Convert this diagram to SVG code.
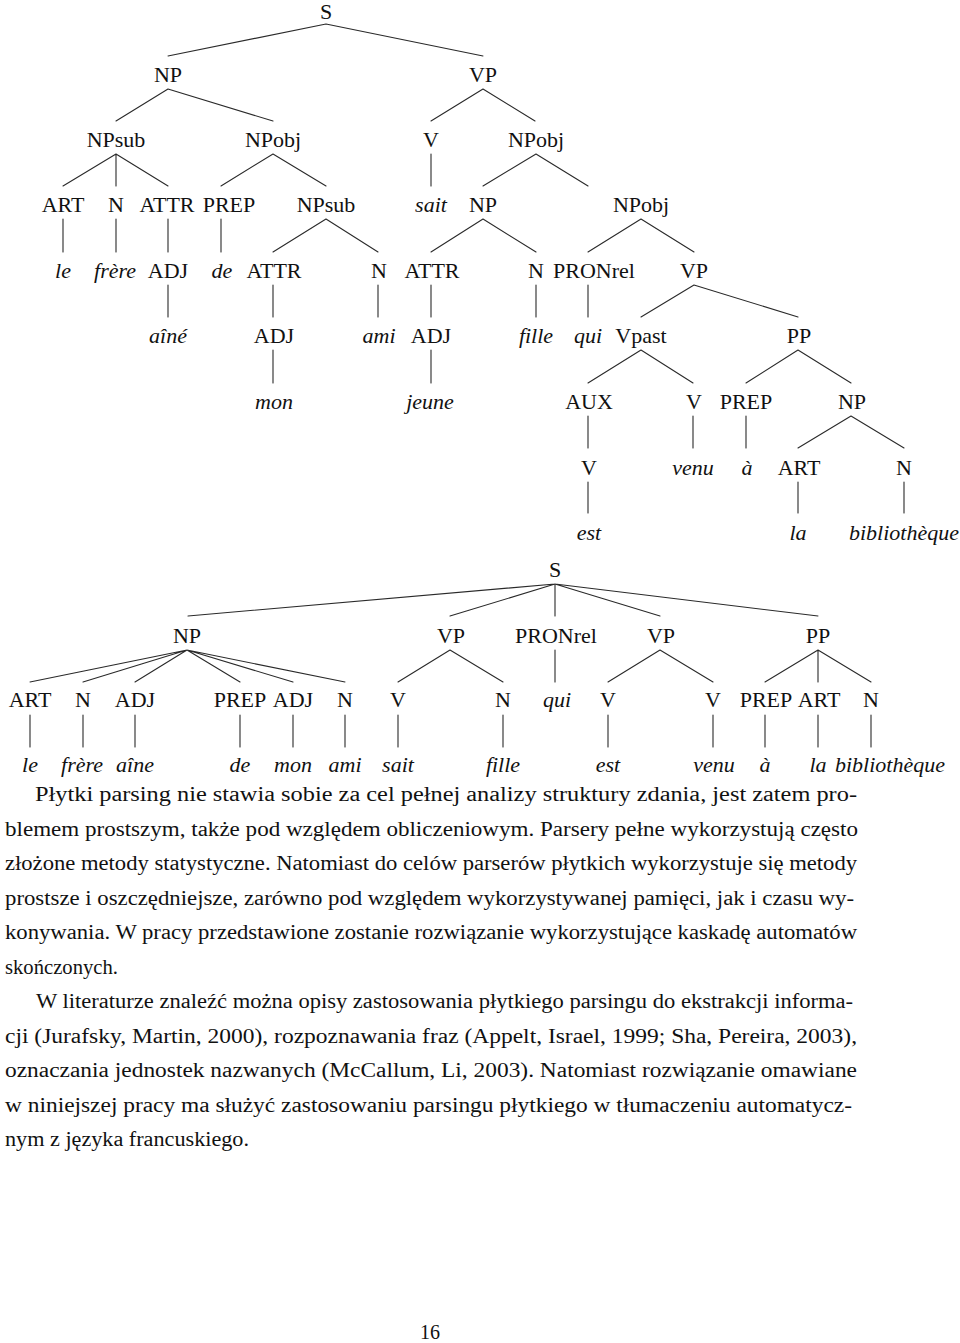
<svg xmlns="http://www.w3.org/2000/svg" width="960" height="1343" viewBox="0 0 960 1343">
<style>
text{font-family:"Liberation Serif","DejaVu Serif",serif;fill:#111}
.t{font-size:22px;text-anchor:middle}
.i{font-style:italic}
.p{font-size:20px}
#connectors{stroke:#2a2a2a;stroke-width:1.1;fill:none;stroke-linecap:round}
</style>
<rect width="960" height="1343" fill="#fff"/>
<g id="connectors">
<path d="M326 24L168 56M326 24L483 56"/>
<path d="M168 89L116 121M168 89L273 121"/>
<path d="M483 89L431 121M483 89L535 121"/>
<path d="M116 154L63 186M116 154L116 186M116 154L168 186"/>
<path d="M273 154L221 186M273 154L326 186"/>
<path d="M431 154L431 186"/>
<path d="M536 154L483 186M536 154L588 186"/>
<path d="M63 219L63 252M116 219L116 252M168 219L168 252M221 219L221 252"/>
<path d="M326 219L273 252M326 219L378 252"/>
<path d="M483 219L431 252M483 219L536 252"/>
<path d="M641 219L588 252M641 219L694 252"/>
<path d="M168 285L168 317M273 285L273 317M378 285L378 317M431 285L431 317M536 285L536 317M588 285L588 317"/>
<path d="M694 285L641 317M694 285L798 317"/>
<path d="M273 350L273 383M431 350L431 383"/>
<path d="M641 350L588 383M641 350L693 383"/>
<path d="M798 350L746 383M798 350L851 383"/>
<path d="M588 416L588 448M693 416L693 448M746 416L746 448"/>
<path d="M851 416L798 448M851 416L904 448"/>
<path d="M588 482L588 513M798 482L798 513M904 482L904 513"/>
<path d="M555 584L188 616M555 584L450 616M555 584L555 616M555 584L660 616M555 584L818 616"/>
<path d="M187 650L30 682M187 650L83 682M187 650L135 682M187 650L240 682M187 650L293 682M187 650L345 682"/>
<path d="M450 650L398 682M450 650L503 682"/>
<path d="M555 650L555 682"/>
<path d="M660 650L608 682M660 650L713 682"/>
<path d="M818 650L765 682M818 650L818 682M818 650L871 682"/>
<path d="M30 715L30 747M83 715L83 747M135 715L135 747M240 715L240 747M293 715L293 747M345 715L345 747M398 715L398 747M503 715L503 747M608 715L608 747M713 715L713 747M765 715L765 747M818 715L818 747M871 715L871 747"/>
</g>
<g id="tree1">
<g id="t1-S"><text class="t" x="326" y="19">S</text></g>
<g id="t1-NP"><text class="t" x="168" y="82">NP</text></g>
<g id="t1-VP"><text class="t" x="483" y="82">VP</text></g>
<g id="t1-NPsub"><text class="t" x="116" y="147">NPsub</text></g>
<g id="t1-NPobj"><text class="t" x="273" y="147">NPobj</text></g>
<g id="t1-V"><text class="t" x="431" y="147">V</text></g>
<g id="t1-NPobj2"><text class="t" x="536" y="147">NPobj</text></g>
<g id="t1-ART"><text class="t" x="63" y="212">ART</text></g>
<g id="t1-N"><text class="t" x="116" y="212">N</text></g>
<g id="t1-ATTR"><text class="t" x="167" y="212">ATTR</text></g>
<g id="t1-PREP"><text class="t" x="229" y="212">PREP</text></g>
<g id="t1-NPsub2"><text class="t" x="326" y="212">NPsub</text></g>
<g id="t1-sait"><text class="t i" x="431" y="212">sait</text></g>
<g id="t1-NP2"><text class="t" x="483" y="212">NP</text></g>
<g id="t1-NPobj3"><text class="t" x="641" y="212">NPobj</text></g>
<g id="t1-le"><text class="t i" x="63" y="278">le</text></g>
<g id="t1-frere"><text class="t i" x="115" y="278">frère</text></g>
<g id="t1-ADJ"><text class="t" x="168" y="278">ADJ</text></g>
<g id="t1-de"><text class="t i" x="222" y="278">de</text></g>
<g id="t1-ATTR2"><text class="t" x="274" y="278">ATTR</text></g>
<g id="t1-N2"><text class="t" x="379" y="278">N</text></g>
<g id="t1-ATTR3"><text class="t" x="432" y="278">ATTR</text></g>
<g id="t1-N3"><text class="t" x="536" y="278">N</text></g>
<g id="t1-PRONrel"><text class="t" x="594" y="278">PRONrel</text></g>
<g id="t1-VP2"><text class="t" x="694" y="278">VP</text></g>
<g id="t1-aine"><text class="t i" x="168" y="343">aîné</text></g>
<g id="t1-ADJ2"><text class="t" x="274" y="343">ADJ</text></g>
<g id="t1-ami"><text class="t i" x="379" y="343">ami</text></g>
<g id="t1-ADJ3"><text class="t" x="431" y="343">ADJ</text></g>
<g id="t1-fille"><text class="t i" x="536" y="343">fille</text></g>
<g id="t1-qui"><text class="t i" x="588" y="343">qui</text></g>
<g id="t1-Vpast"><text class="t" x="641" y="343">Vpast</text></g>
<g id="t1-PP"><text class="t" x="799" y="343">PP</text></g>
<g id="t1-mon"><text class="t i" x="274" y="409">mon</text></g>
<g id="t1-jeune"><text class="t i" x="430" y="409">jeune</text></g>
<g id="t1-AUX"><text class="t" x="589" y="409">AUX</text></g>
<g id="t1-V2"><text class="t" x="694" y="409">V</text></g>
<g id="t1-PREP2"><text class="t" x="746" y="409">PREP</text></g>
<g id="t1-NP3"><text class="t" x="852" y="409">NP</text></g>
<g id="t1-V3"><text class="t" x="589" y="475">V</text></g>
<g id="t1-venu"><text class="t i" x="693" y="475">venu</text></g>
<g id="t1-a"><text class="t i" x="747" y="475">à</text></g>
<g id="t1-ART2"><text class="t" x="799" y="475">ART</text></g>
<g id="t1-N4"><text class="t" x="904" y="475">N</text></g>
<g id="t1-est"><text class="t i" x="589" y="540">est</text></g>
<g id="t1-la"><text class="t i" x="798" y="540">la</text></g>
<g id="t1-biblio"><text class="t i" x="904" y="540">bibliothèque</text></g>
</g>
<g id="tree2">
<g id="t2-S"><text class="t" x="555" y="577">S</text></g>
<g id="t2-NP"><text class="t" x="187" y="643">NP</text></g>
<g id="t2-VP"><text class="t" x="451" y="643">VP</text></g>
<g id="t2-PRONrel"><text class="t" x="556" y="643">PRONrel</text></g>
<g id="t2-VP2"><text class="t" x="661" y="643">VP</text></g>
<g id="t2-PP"><text class="t" x="818" y="643">PP</text></g>
<g id="t2-ART"><text class="t" x="30" y="707">ART</text></g>
<g id="t2-N"><text class="t" x="83" y="707">N</text></g>
<g id="t2-ADJ"><text class="t" x="135" y="707">ADJ</text></g>
<g id="t2-PREP"><text class="t" x="240" y="707">PREP</text></g>
<g id="t2-ADJ2"><text class="t" x="293" y="707">ADJ</text></g>
<g id="t2-N2"><text class="t" x="345" y="707">N</text></g>
<g id="t2-V"><text class="t" x="398" y="707">V</text></g>
<g id="t2-N3"><text class="t" x="503" y="707">N</text></g>
<g id="t2-qui"><text class="t i" x="557" y="707">qui</text></g>
<g id="t2-V2"><text class="t" x="608" y="707">V</text></g>
<g id="t2-V3"><text class="t" x="713" y="707">V</text></g>
<g id="t2-PREP2"><text class="t" x="766" y="707">PREP</text></g>
<g id="t2-ART2"><text class="t" x="819" y="707">ART</text></g>
<g id="t2-N4"><text class="t" x="871" y="707">N</text></g>
<g id="t2-le"><text class="t i" x="30" y="772">le</text></g>
<g id="t2-frere"><text class="t i" x="82" y="772">frère</text></g>
<g id="t2-aine"><text class="t i" x="135" y="772">aîne</text></g>
<g id="t2-de"><text class="t i" x="240" y="772">de</text></g>
<g id="t2-mon"><text class="t i" x="293" y="772">mon</text></g>
<g id="t2-ami"><text class="t i" x="345" y="772">ami</text></g>
<g id="t2-sait"><text class="t i" x="398" y="772">sait</text></g>
<g id="t2-fille"><text class="t i" x="503" y="772">fille</text></g>
<g id="t2-est"><text class="t i" x="608" y="772">est</text></g>
<g id="t2-venu"><text class="t i" x="714" y="772">venu</text></g>
<g id="t2-a"><text class="t i" x="765" y="772">à</text></g>
<g id="t2-la"><text class="t i" x="818" y="772">la</text></g>
<g id="t2-biblio"><text class="t i" x="890" y="772">bibliothèque</text></g>
</g>
<g id="body-text">
<text class="p" x="35" y="801" textLength="822" lengthAdjust="spacingAndGlyphs">Płytki parsing nie stawia sobie za cel pełnej analizy struktury zdania, jest zatem pro-</text>
<text class="p" x="5" y="835.5" textLength="853" lengthAdjust="spacingAndGlyphs">blemem prostszym, także pod względem obliczeniowym. Parsery pełne wykorzystują często</text>
<text class="p" x="5" y="870" textLength="852" lengthAdjust="spacingAndGlyphs">złożone metody statystyczne. Natomiast do celów parserów płytkich wykorzystuje się metody</text>
<text class="p" x="5" y="904.5" textLength="849" lengthAdjust="spacingAndGlyphs">prostsze i oszczędniejsze, zarówno pod względem wykorzystywanej pamięci, jak i czasu wy-</text>
<text class="p" x="5" y="939" textLength="852" lengthAdjust="spacingAndGlyphs">konywania. W pracy przedstawione zostanie rozwiązanie wykorzystujące kaskadę automatów</text>
<text class="p" x="5" y="973.5" textLength="113" lengthAdjust="spacingAndGlyphs">skończonych.</text>
<text class="p" x="36" y="1008" textLength="817" lengthAdjust="spacingAndGlyphs">W literaturze znaleźć można opisy zastosowania płytkiego parsingu do ekstrakcji informa-</text>
<text class="p" x="5" y="1042.5" textLength="852" lengthAdjust="spacingAndGlyphs">cji (Jurafsky, Martin, 2000), rozpoznawania fraz (Appelt, Israel, 1999; Sha, Pereira, 2003),</text>
<text class="p" x="5" y="1077" textLength="852" lengthAdjust="spacingAndGlyphs">oznaczania jednostek nazwanych (McCallum, Li, 2003). Natomiast rozwiązanie omawiane</text>
<text class="p" x="5" y="1111.5" textLength="847" lengthAdjust="spacingAndGlyphs">w niniejszej pracy ma służyć zastosowaniu parsingu płytkiego w tłumaczeniu automatycz-</text>
<text class="p" x="5" y="1146" textLength="244" lengthAdjust="spacingAndGlyphs">nym z języka francuskiego.</text>
</g>
<g id="page-number"><text class="p" x="430" y="1339" text-anchor="middle">16</text></g>
</svg>
